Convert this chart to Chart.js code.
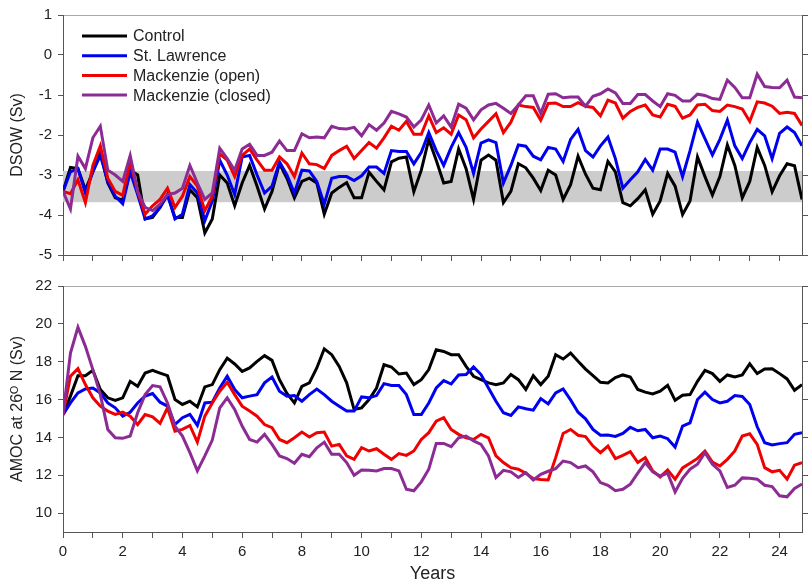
<!DOCTYPE html>
<html>
<head>
<meta charset="utf-8">
<script src="https://cdn.jsdelivr.net/npm/chart.js@4.4.1/dist/chart.umd.min.js"></script>
<style>
  html, body { margin: 0; padding: 0; background: #fff; }
  #wrap { position: relative; width: 812px; height: 585px; }
  #dsow, #amoc { position: absolute; left: 0; }
  #dsow { top: 0; }
  #amoc { top: 270px; }
</style>
</head>
<body>
<div id="wrap">
  <canvas id="dsow" width="812" height="270"></canvas>
  <canvas id="amoc" width="812" height="315"></canvas>
</div>
<script>
// Quarterly model output, years 0 to 24.75.
const years = Array.from({ length: 100 }, (_, i) => i / 4);

const seriesNames = ['Control', 'St. Lawrence', 'Mackenzie (open)', 'Mackenzie (closed)'];
const seriesColors = ['#000000', '#0000f0', '#f00000', '#8c2b93'];

// DSOW (Sv), upper panel
const dsowControl = [
  -3.41, -2.81, -2.84, -3.37, -2.92, -2.43, -3.20, -3.57, -3.63, -2.88,
  -3.00, -4.10, -4.06, -3.81, -3.49, -4.06, -4.06, -3.37, -3.57, -4.45,
  -4.10, -3.00, -3.20, -3.77, -3.20, -2.76, -3.28, -3.85, -3.41, -2.72,
  -3.08, -3.57, -3.16, -3.08, -3.20, -3.98, -3.45, -3.31, -3.19, -3.57,
  -3.57, -2.93, -3.16, -3.37, -2.67, -2.58, -2.55, -3.42, -2.88, -2.11,
  -2.63, -3.20, -3.16, -2.35, -2.84, -3.61, -2.63, -2.50, -2.63, -3.69,
  -3.41, -2.72, -2.82, -3.08, -3.39, -2.88, -3.00, -3.61, -3.24, -2.53,
  -2.98, -3.33, -3.37, -2.66, -2.92, -3.69, -3.77, -3.59, -3.37, -3.98,
  -3.65, -2.96, -3.28, -3.99, -3.65, -2.55, -3.04, -3.50, -3.04, -2.25,
  -2.76, -3.57, -3.16, -2.31, -2.76, -3.42, -3.02, -2.72, -2.77, -3.61
];
const dsowStLawrence = [
  -3.41, -2.92, -2.84, -3.45, -2.92, -2.51, -3.16, -3.53, -3.72, -2.92,
  -3.49, -4.10, -4.02, -3.81, -3.49, -4.10, -3.98, -3.24, -3.45, -4.14,
  -3.65, -2.63, -3.00, -3.49, -2.55, -2.51, -3.00, -3.45, -3.28, -2.67,
  -3.00, -3.45, -2.88, -2.90, -3.16, -3.73, -3.08, -3.04, -3.04, -3.14,
  -3.02, -2.80, -2.80, -2.96, -2.39, -2.41, -2.41, -2.72, -2.43, -1.94,
  -2.39, -2.76, -2.31, -1.94, -2.31, -2.96, -2.20, -2.12, -2.19, -3.20,
  -2.76, -2.25, -2.28, -2.53, -2.62, -2.31, -2.35, -2.66, -2.11, -1.86,
  -2.39, -2.55, -2.27, -2.05, -2.59, -3.33, -3.12, -2.92, -2.61, -2.88,
  -2.35, -2.35, -2.43, -3.04, -2.39, -1.68, -2.09, -2.50, -2.11, -1.63,
  -2.27, -2.59, -2.19, -1.86, -2.02, -2.59, -1.96, -1.80, -1.94, -2.27
];
const dsowMackOpen = [
  -3.41, -3.47, -3.12, -3.69, -2.76, -2.27, -3.08, -3.41, -3.51, -2.67,
  -3.41, -3.98, -3.77, -3.61, -3.33, -3.81, -3.53, -3.04, -3.28, -3.89,
  -3.53, -2.47, -2.63, -3.04, -2.51, -2.35, -2.63, -2.88, -2.88, -2.55,
  -2.72, -3.04, -2.45, -2.72, -2.74, -2.84, -2.51, -2.39, -2.28, -2.59,
  -2.39, -2.19, -2.33, -2.07, -1.78, -1.88, -1.66, -1.98, -1.98, -1.52,
  -1.94, -1.82, -1.98, -1.50, -1.62, -2.07, -1.85, -1.66, -1.47, -1.94,
  -1.68, -1.25, -1.29, -1.31, -1.63, -1.21, -1.20, -1.29, -1.29, -1.19,
  -1.28, -1.31, -1.52, -1.13, -1.20, -1.58, -1.41, -1.31, -1.25, -1.50,
  -1.55, -1.23, -1.28, -1.58, -1.50, -1.25, -1.23, -1.39, -1.41, -1.25,
  -1.29, -1.35, -1.66, -1.17, -1.20, -1.28, -1.46, -1.43, -1.46, -1.76
];
const dsowMackClosed = [
  -3.41, -3.85, -2.53, -2.84, -2.07, -1.78, -2.88, -3.00, -3.16, -2.51,
  -3.41, -3.81, -3.89, -3.73, -3.49, -3.45, -3.33, -2.76, -3.20, -3.61,
  -3.45, -2.33, -2.59, -2.88, -2.35, -2.23, -2.51, -2.51, -2.43, -2.15,
  -2.39, -2.39, -1.97, -2.07, -2.05, -2.07, -1.78, -1.84, -1.85, -1.81,
  -2.02, -1.74, -1.88, -1.70, -1.41, -1.47, -1.55, -1.80, -1.62, -1.25,
  -1.70, -1.52, -1.80, -1.23, -1.33, -1.62, -1.37, -1.25, -1.21, -1.33,
  -1.46, -1.25, -1.02, -1.02, -1.46, -0.98, -0.97, -1.07, -1.05, -1.05,
  -1.28, -1.03, -0.97, -0.85, -0.95, -1.21, -1.21, -0.99, -0.99, -1.15,
  -1.29, -0.97, -1.01, -1.15, -1.15, -0.98, -1.01, -1.09, -1.11, -0.63,
  -0.81, -1.07, -1.07, -0.48, -0.79, -0.81, -0.82, -0.63, -1.05, -1.07
];
// grey band: control range
const dsowBandLow = -3.68;
const dsowBandHigh = -2.90;

// AMOC at 26N (Sv), lower panel
const amocControl = [
  15.20, 16.18, 17.26, 17.26, 17.54, 16.53, 16.09, 15.95, 16.09, 16.96,
  16.70, 17.40, 17.54, 17.40, 17.26, 16.00, 15.74, 15.91, 15.61, 16.67,
  16.79, 17.58, 18.19, 17.88, 17.49, 17.67, 18.02, 18.32, 18.07, 17.05,
  16.32, 15.82, 16.70, 16.88, 17.67, 18.68, 18.37, 17.75, 16.88, 15.47,
  15.56, 16.00, 16.61, 17.84, 17.72, 17.35, 17.40, 16.79, 17.05, 17.58,
  18.63, 18.54, 18.37, 18.37, 17.75, 17.23, 17.05, 16.88, 16.79, 16.88,
  17.32, 17.05, 16.53, 17.26, 16.79, 17.23, 18.37, 18.14, 18.46, 18.02,
  17.61, 17.26, 16.91, 16.88, 17.16, 17.30, 17.19, 16.53, 16.39, 16.30,
  16.44, 16.75, 15.96, 16.23, 16.26, 16.96, 17.54, 17.37, 16.96, 17.30,
  17.19, 17.30, 17.89, 17.37, 17.61, 17.63, 17.37, 17.09, 16.49, 16.79
];
const amocStLawrence = [
  15.20, 15.82, 16.35, 16.56, 16.61, 16.35, 15.82, 15.56, 15.12, 15.33,
  15.82, 16.18, 16.32, 15.86, 15.65, 14.68, 15.04, 15.21, 14.63, 15.82,
  15.86, 16.61, 17.23, 16.53, 16.09, 16.18, 16.26, 16.88, 17.19, 16.44,
  16.18, 16.21, 15.91, 16.26, 16.55, 16.26, 15.91, 15.65, 15.39, 15.39,
  16.14, 16.09, 16.21, 16.84, 16.74, 16.74, 16.26, 15.21, 15.21, 15.82,
  16.61, 17.00, 16.82, 17.30, 17.32, 17.72, 17.32, 16.61, 15.91, 15.30,
  15.16, 15.61, 15.51, 15.44, 16.05, 15.77, 16.35, 16.56, 15.98, 15.33,
  14.98, 14.42, 14.11, 14.12, 14.05, 14.21, 14.53, 14.35, 14.42, 13.98,
  14.07, 13.93, 13.49, 14.60, 14.77, 16.00, 16.39, 16.00, 15.82, 15.91,
  16.21, 16.16, 15.74, 14.56, 13.72, 13.60, 13.67, 13.72, 14.16, 14.25
];
const amocMackOpen = [
  15.20, 17.23, 17.63, 16.79, 16.09, 15.65, 15.39, 15.21, 15.33, 15.12,
  14.68, 15.21, 15.09, 14.74, 15.56, 14.33, 14.42, 14.63, 13.75, 15.12,
  15.82, 16.44, 16.91, 16.26, 15.65, 15.39, 15.12, 14.68, 14.51, 13.89,
  13.72, 13.98, 14.28, 14.02, 14.25, 14.28, 13.54, 13.63, 13.02, 12.84,
  13.46, 13.28, 13.40, 13.11, 12.84, 13.14, 13.05, 13.28, 13.89, 14.25,
  14.86, 15.04, 14.42, 14.16, 13.98, 13.89, 14.16, 13.98, 13.02, 12.67,
  12.40, 12.32, 12.11, 11.82, 11.77, 11.75, 12.93, 14.21, 14.42, 14.11,
  14.04, 13.54, 13.19, 13.54, 12.88, 13.05, 13.25, 12.67, 12.93, 12.23,
  11.91, 12.28, 11.79, 12.39, 12.63, 12.89, 13.28, 12.70, 12.49, 12.84,
  13.28, 14.07, 14.19, 13.63, 12.40, 12.18, 12.26, 11.79, 12.53, 12.67
];
const amocMackClosed = [
  15.20, 18.46, 19.82, 18.81, 17.58, 16.26, 14.42, 13.98, 13.95, 14.07,
  15.30, 16.26, 16.74, 16.67, 15.82, 14.60, 14.07, 13.19, 12.23, 13.02,
  13.86, 15.56, 16.09, 15.47, 14.60, 13.89, 13.75, 14.16, 13.63, 13.02,
  12.88, 12.63, 13.11, 12.98, 13.45, 13.75, 13.11, 13.11, 12.67, 12.00,
  12.28, 12.26, 12.23, 12.35, 12.35, 12.23, 11.26, 11.18, 11.65, 12.32,
  13.68, 13.68, 13.51, 13.98, 14.07, 13.81, 13.63, 13.02, 11.88, 12.26,
  12.18, 11.88, 12.14, 11.75, 12.05, 12.21, 12.35, 12.75, 12.67, 12.40,
  12.49, 12.18, 11.61, 11.47, 11.18, 11.26, 11.53, 12.11, 12.67, 12.18,
  11.96, 12.11, 11.12, 11.84, 12.32, 12.58, 13.19, 12.58, 12.23, 11.35,
  11.47, 11.86, 11.84, 11.79, 11.47, 11.40, 10.91, 10.86, 11.30, 11.53
];

const xMax = 24.75;
const fontFamily = '"Liberation Sans", Arial, Helvetica, sans-serif';
const textColor = '#222';
const axisColor = '#555';

Chart.defaults.font.family = fontFamily;
Chart.defaults.color = textColor;

const buildDatasets = (seriesList) => seriesList.map((values, i) => ({
  label: seriesNames[i],
  data: values.map((v, j) => ({ x: years[j], y: v })),
  borderColor: seriesColors[i],
  backgroundColor: seriesColors[i],
  borderWidth: 3,
  pointRadius: 0,
  tension: 0,
  fill: false,
  // later series sit on top
  order: seriesList.length - i
}));

const xAxis = (showLabels, height) => ({
  type: 'linear',
  position: 'bottom',
  min: 0,
  max: xMax,
  ticks: {
    stepSize: 1,
    includeBounds: false,
    autoSkip: false,
    maxRotation: 0,
    padding: 5,
    font: { size: 15 },
    callback: (v) => (showLabels && v % 2 === 0 ? String(v) : '')
  },
  grid: { drawOnChartArea: false, tickLength: 6, color: axisColor },
  border: { color: axisColor },
  title: {
    display: showLabels,
    text: 'Years',
    font: { size: 18 },
    padding: { top: 0, bottom: 0 }
  },
  afterFit: (scale) => { scale.height = height; }
});

const topFrame = {
  type: 'linear',
  position: 'top',
  min: 0,
  max: xMax,
  ticks: { display: false },
  grid: { display: false },
  border: { color: '#aaa' },
  afterFit: (scale) => { scale.height = 0; }
};

const leftAxis = (min, max, step, title) => ({
  position: 'left',
  min,
  max,
  ticks: { stepSize: step, includeBounds: false, padding: 6, font: { size: 15 } },
  grid: { drawOnChartArea: false, tickLength: 5, color: axisColor },
  border: { color: axisColor },
  title: { display: true, text: title, font: { size: 16 }, padding: { top: 8, bottom: 0 } },
  afterFit: (scale) => { scale.width = 63; }
});

const rightAxis = (min, max, step) => ({
  position: 'right',
  min,
  max,
  ticks: { stepSize: step, includeBounds: false, display: false },
  grid: { drawOnChartArea: false, tickLength: 6, color: axisColor },
  border: { color: axisColor },
  afterFit: (scale) => { scale.width = 10; }
});

// grey control band behind the lines
const bandPlugin = {
  id: 'controlBand',
  beforeDatasetsDraw(chart) {
    const { ctx, chartArea, scales } = chart;
    const yTop = scales.y.getPixelForValue(dsowBandHigh);
    const yBottom = scales.y.getPixelForValue(dsowBandLow);
    ctx.save();
    ctx.fillStyle = '#cccccc';
    ctx.fillRect(chartArea.left, yTop, chartArea.right - chartArea.left, yBottom - yTop);
    ctx.restore();
  }
};

// legend drawn inside the upper panel, top-left
const insideLegend = {
  id: 'insideLegend',
  afterDatasetsDraw(chart) {
    const { ctx, chartArea } = chart;
    const x0 = chartArea.left + 19;
    const y0 = chartArea.top + 21;
    ctx.save();
    ctx.font = '16px ' + fontFamily;
    ctx.textBaseline = 'middle';
    chart.data.datasets.forEach((ds, i) => {
      const y = y0 + i * 19.7;
      ctx.strokeStyle = ds.borderColor;
      ctx.lineWidth = 3;
      ctx.beginPath();
      ctx.moveTo(x0, y);
      ctx.lineTo(x0 + 45, y);
      ctx.stroke();
      ctx.fillStyle = textColor;
      ctx.fillText(ds.label, x0 + 51, y + 1);
    });
    ctx.restore();
  }
};

const commonPlugins = {
  legend: { display: false },
  tooltip: { enabled: false }
};

new Chart(document.getElementById('dsow'), {
  type: 'line',
  data: { datasets: buildDatasets([dsowControl, dsowStLawrence, dsowMackOpen, dsowMackClosed]) },
  options: {
    responsive: false,
    animation: false,
    layout: { padding: { top: 9, left: 0, right: 0, bottom: 0 } },
    scales: {
      x: xAxis(false, 15),
      xTop: topFrame,
      y: leftAxis(-5, 1, 1, 'DSOW (Sv)'),
      yRight: rightAxis(-5, 1, 1)
    },
    plugins: commonPlugins
  },
  plugins: [bandPlugin, insideLegend]
});

new Chart(document.getElementById('amoc'), {
  type: 'line',
  data: { datasets: buildDatasets([amocControl, amocStLawrence, amocMackOpen, amocMackClosed]) },
  options: {
    responsive: false,
    animation: false,
    layout: { padding: { top: 16, left: 0, right: 0, bottom: 0 } },
    scales: {
      x: xAxis(true, 53),
      xTop: topFrame,
      y: leftAxis(9, 22, 2, 'AMOC at 26\u1D3C N (Sv)'),
      yRight: rightAxis(9, 22, 2)
    },
    plugins: commonPlugins
  }
});
</script>
</body>
</html>
